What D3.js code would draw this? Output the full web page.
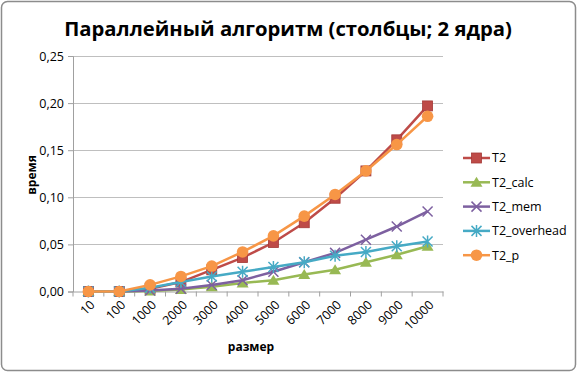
<!DOCTYPE html>
<html>
<head>
<meta charset="utf-8">
<title>Chart</title>
<style>
  body { margin: 0; background: #fff; }
  text { font-family: "Open Sans", "DejaVu Sans", sans-serif; fill: #000; }
  .grid line { stroke: #bfbfbf; stroke-width: 1px; }
  .axis path, .axis line { stroke: #a0a0a0; }
  .axis text { font-size: 12px; }
  .series path.line { fill: none; stroke-width: 2.5px; }
</style>
</head>
<body>
<svg class="chart"></svg>
<script src="https://d3js.org/d3.v7.min.js"></script>
<script>
var categories = ["10", "100", "1000", "2000", "3000", "4000", "5000", "6000", "7000", "8000", "9000", "10000"];
var seriesNames = ["T2", "T2_calc", "T2_mem", "T2_overhead", "T2_p"];
var T2          = [0, 0, 0.003, 0.010, 0.023, 0.036, 0.052, 0.073, 0.099, 0.128, 0.161, 0.197];
var T2_calc     = [0, 0, 0.0005, 0.002, 0.005, 0.009, 0.012, 0.018, 0.023, 0.031, 0.039, 0.048];
var T2_mem      = [0, 0, 0.001, 0.003, 0.007, 0.012, 0.021, 0.031, 0.041, 0.055, 0.069, 0.085];
var T2_overhead = [0, 0, 0.004, 0.010, 0.016, 0.021, 0.026, 0.031, 0.038, 0.042, 0.048, 0.053];
var T2_p        = [0, 0, 0.007, 0.016, 0.027, 0.042, 0.059, 0.080, 0.103, 0.128, 0.156, 0.186];
var yTicks = [0, 0.05, 0.10, 0.15, 0.20, 0.25];
var colors = ["#BE4B48", "#98B954", "#7D60A0", "#46AAC5", "#F79646"];
var symbols = ["square", "triangle", "x", "star", "circle"];
var values = [T2, T2_calc, T2_mem, T2_overhead, T2_p];

var W = 578, H = 373;
var margin = {top: 56, right: 135, bottom: 81.5, left: 73};
var width = W - margin.left - margin.right,
    height = H - margin.top - margin.bottom;

var svg = d3.select(".chart").attr("width", W).attr("height", H);

// outer frame
svg.append("rect")
  .attr("x", 1.5).attr("y", 1.5).attr("width", W - 4).attr("height", H - 4)
  .attr("rx", 6).attr("fill", "#fff").attr("stroke", "#8c8c8c").attr("stroke-width", 1.5);

var chart = svg.append("g").attr("transform", "translate(" + margin.left + "," + margin.top + ")");

var x = d3.scaleBand().domain(categories).range([0, width]);
var y = d3.scaleLinear().domain([0, 0.25]).range([height, 0]);
var fmt = function(d) { return d3.format(".2f")(d).replace(".", ","); };

// grid
chart.append("g").attr("class", "grid")
  .selectAll("line").data(yTicks.slice(1)).enter().append("line")
  .attr("x1", 0).attr("x2", width)
  .attr("y1", function(d) { return Math.round(y(d)) + 0.5; })
  .attr("y2", function(d) { return Math.round(y(d)) + 0.5; });

// y axis
var yAxis = chart.append("g").attr("class", "axis")
  .call(d3.axisLeft(y).tickValues(yTicks).tickFormat(fmt).tickSize(5).tickPadding(4));
yAxis.selectAll("text").style("font-size", "12.5px").attr("fill", "#000");

// x axis
var xAxis = chart.append("g").attr("class", "axis").attr("transform", "translate(0," + height + ")")
  .call(d3.axisBottom(x).tickSize(0));
xAxis.selectAll("text")
  .attr("fill", "#000")
  .style("font-size", "12.5px")
  .style("text-anchor", "end")
  .attr("x", 0).attr("y", 0).attr("dy", "0.35em")
  .attr("transform", "translate(4,11) rotate(-45)");
xAxis.selectAll(".sep").data(categories.concat([""])).enter().append("line")
  .attr("class", "sep")
  .attr("x1", function(d, i) { return i * x.bandwidth(); })
  .attr("x2", function(d, i) { return i * x.bandwidth(); })
  .attr("y1", 0).attr("y2", 5);

// series
var line = d3.line()
  .x(function(d, i) { return x(categories[i]) + x.bandwidth() / 2; })
  .y(function(d) { return y(d); });

seriesNames.forEach(function(name, s) {
  var g = chart.append("g").attr("class", "series");
  g.append("path").attr("class", "line").attr("d", line(values[s])).attr("stroke", colors[s]);
  drawMarkers(g, values[s].map(function(v, i) {
    return [x(categories[i]) + x.bandwidth() / 2, y(v)];
  }), s);
});

function drawMarkers(g, pts, s) {
  var sym = symbols[s];
  pts.forEach(function(p) {
    if (sym === "square") {
      g.append("rect").attr("x", p[0] - 5).attr("y", p[1] - 5).attr("width", 10).attr("height", 10)
        .attr("fill", colors[s]).attr("stroke", "#a53a37").attr("stroke-width", 0.8);
    } else if (sym === "triangle") {
      g.append("path").attr("transform", "translate(" + p[0] + "," + p[1] + ")")
        .attr("d", "M0,-5.5L6,4.5L-6,4.5Z").attr("fill", colors[s]);
    } else if (sym === "circle") {
      g.append("circle").attr("cx", p[0]).attr("cy", p[1]).attr("r", 5.8).attr("fill", colors[s]);
    } else if (sym === "x") {
      g.append("path").attr("transform", "translate(" + p[0] + "," + p[1] + ")")
        .attr("d", "M-5,-5L5,5M-5,5L5,-5").attr("stroke", colors[s]).attr("stroke-width", 1.5).attr("fill", "none");
    } else {
      g.append("path").attr("transform", "translate(" + p[0] + "," + p[1] + ")")
        .attr("d", "M-5,-5L5,5M-5,5L5,-5M0,-6L0,6").attr("stroke", colors[s]).attr("stroke-width", 1.5).attr("fill", "none");
    }
  });
}

// legend
var legend = svg.append("g").attr("transform", "translate(463,158)");
seriesNames.forEach(function(name, s) {
  var lg = legend.append("g").attr("transform", "translate(0," + (s * 24.3) + ")");
  lg.append("line").attr("x1", 0).attr("x2", 27).attr("y1", 0).attr("y2", 0)
    .attr("stroke", colors[s]).attr("stroke-width", 2.5);
  drawMarkers(lg, [[13.5, 0]], s);
  lg.append("text").attr("x", 29).attr("y", 0).attr("dy", "0.35em")
    .style("font-size", "12.5px").text(name);
});

// titles
svg.append("text").attr("x", 288).attr("y", 36).attr("text-anchor", "middle")
  .style("font-size", "20.3px").style("font-weight", "bold")
  .text("Параллейный алгоритм (столбцы; 2 ядра)");
svg.append("text").attr("transform", "translate(36,175) rotate(-90)").attr("text-anchor", "middle")
  .style("font-size", "12px").style("font-weight", "bold").text("время");
svg.append("text").attr("x", 251).attr("y", 351).attr("text-anchor", "middle")
  .style("font-size", "12px").style("font-weight", "bold").text("размер");
</script>
</body>
</html>
